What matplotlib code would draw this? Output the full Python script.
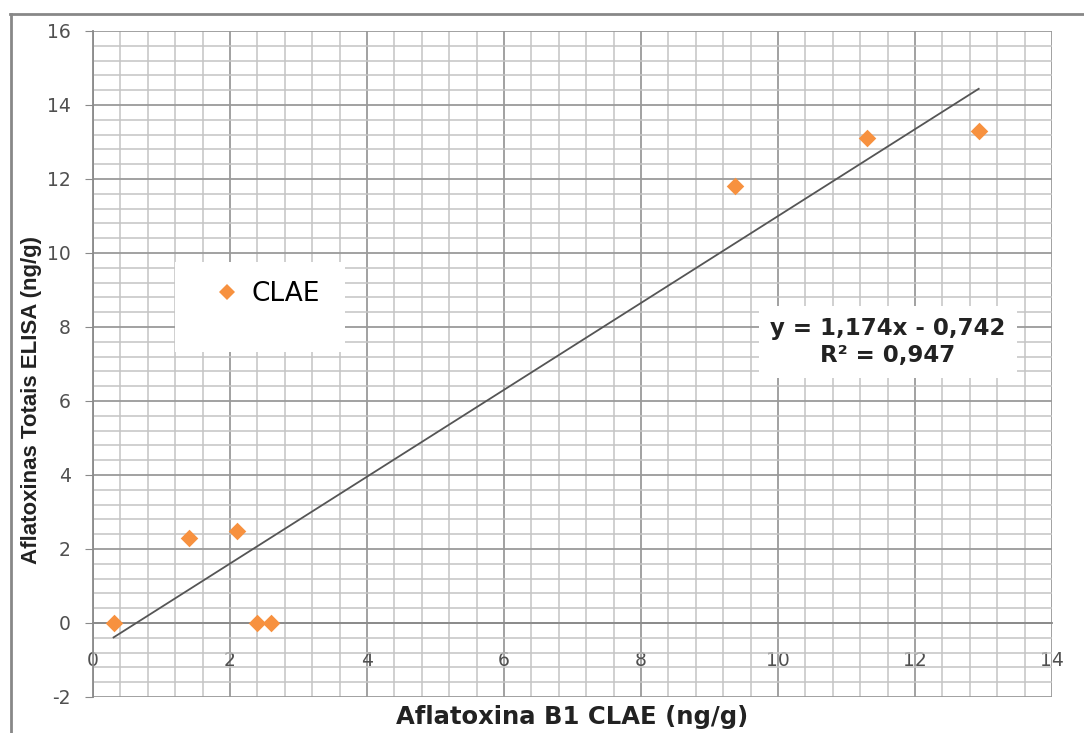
import matplotlib
matplotlib.use("Agg")
import matplotlib.pyplot as plt
import numpy as np
from matplotlib.patches import Rectangle
from matplotlib.lines import Line2D

# === Data ===
clae_b1 = [0.3, 1.4, 2.1, 2.4, 2.6, 9.37, 11.3, 12.93]
elisa_total = [0.0, 2.3, 2.5, 0.0, 0.0, 11.8, 13.1, 13.3]
trend_slope = 1.174
trend_intercept = -0.742
trend_text = "y = 1,174x - 0,742\nR² = 0,947"
series_name = "CLAE"
x_label = "Aflatoxina B1 CLAE (ng/g)"
y_label = "Aflatoxinas Totais ELISA (ng/g)"

plt.rcParams['font.family'] = ['Liberation Sans', 'DejaVu Sans']
plt.rcParams['axes.unicode_minus'] = False

fig = plt.figure(figsize=(10.84, 7.33), dpi=100)
ax = fig.add_axes([93 / 1084, 36 / 733, 959 / 1084, 666 / 733])

# === Grid ===
ax.set_xlim(0, 14)
ax.set_ylim(-2, 16)
ax.set_xticks(np.arange(0, 15, 2))
ax.set_yticks(np.arange(-2, 17, 2))
ax.set_xticks(np.arange(0, 14.01, 0.4), minor=True)
ax.set_yticks(np.arange(-2, 16.01, 0.4), minor=True)
ax.grid(which='major', color='#9a9a9a', linewidth=1.3)
ax.grid(which='minor', color='#c4c4c4', linewidth=1.1)
ax.set_axisbelow(True)

for side in ['top', 'right']:
    ax.spines[side].set_visible(False)
ax.spines['bottom'].set_position(('data', 0))
ax.spines['bottom'].set_color('#8a8a8a')
ax.spines['left'].set_color('#8a8a8a')
ax.spines['bottom'].set_linewidth(1.3)
ax.spines['left'].set_linewidth(1.3)
ax.tick_params(which='minor', length=0)
ax.tick_params(which='major', length=6, color='#8a8a8a', labelcolor='#505050',
               direction='out')
ax.tick_params(axis='x', pad=20, length=0)
ax.tick_params(axis='y', pad=10)
for lab in ax.get_xticklabels() + ax.get_yticklabels():
    lab.set_fontfamily('DejaVu Sans')
    lab.set_fontsize(13.5)

# === Data + trend ===
ax.scatter(clae_b1, elisa_total, marker='D', s=80, color='#f7913f',
           zorder=4, linewidths=0)
xs = np.array([min(clae_b1), max(clae_b1)])
ax.plot(xs, trend_slope * xs + trend_intercept, color='#555555',
        linewidth=1.3, zorder=3)

# === Legend box ===
ax.add_patch(Rectangle((0.0855, 0.518), 0.177, 0.135, transform=ax.transAxes,
                       facecolor='white', edgecolor='none', zorder=5))
handle = Line2D([], [], marker='D', linestyle='none', color='#f7913f',
                markersize=8.5, markeredgewidth=0)
ax.legend([handle], [series_name], loc='center',
          bbox_to_anchor=(0.18, 0.605), frameon=False,
          prop={'family': 'DejaVu Sans', 'size': 19},
          handlelength=1.2, handletextpad=0.3).set_zorder(6)

# === Trend equation ===
ax.text(0.829, 0.533, trend_text, transform=ax.transAxes, ha='center',
        va='center', fontsize=16.5, fontweight='bold', color='#222222',
        family='DejaVu Sans', linespacing=1.25, zorder=6,
        bbox=dict(facecolor='white', edgecolor='none', pad=8))

ax.set_xlabel(x_label, fontsize=17.5, fontweight='bold', color='#222222',
              family='DejaVu Sans')
ax.xaxis.set_label_coords(0.5, -0.012)
ax.set_ylabel(y_label, fontsize=16, fontweight='bold', color='#222222')
ax.yaxis.set_label_coords(-0.053, 0.446)

# figure frame (top and left edges)
fig.add_artist(Line2D([10 / 1084, 1.0], [1 - 14 / 733, 1 - 14 / 733],
                      transform=fig.transFigure, color='#888888', linewidth=2))
fig.add_artist(Line2D([11 / 1084, 11 / 1084], [0, 1 - 14 / 733],
                      transform=fig.transFigure, color='#888888', linewidth=2))

fig.savefig("out.png", dpi=100)
